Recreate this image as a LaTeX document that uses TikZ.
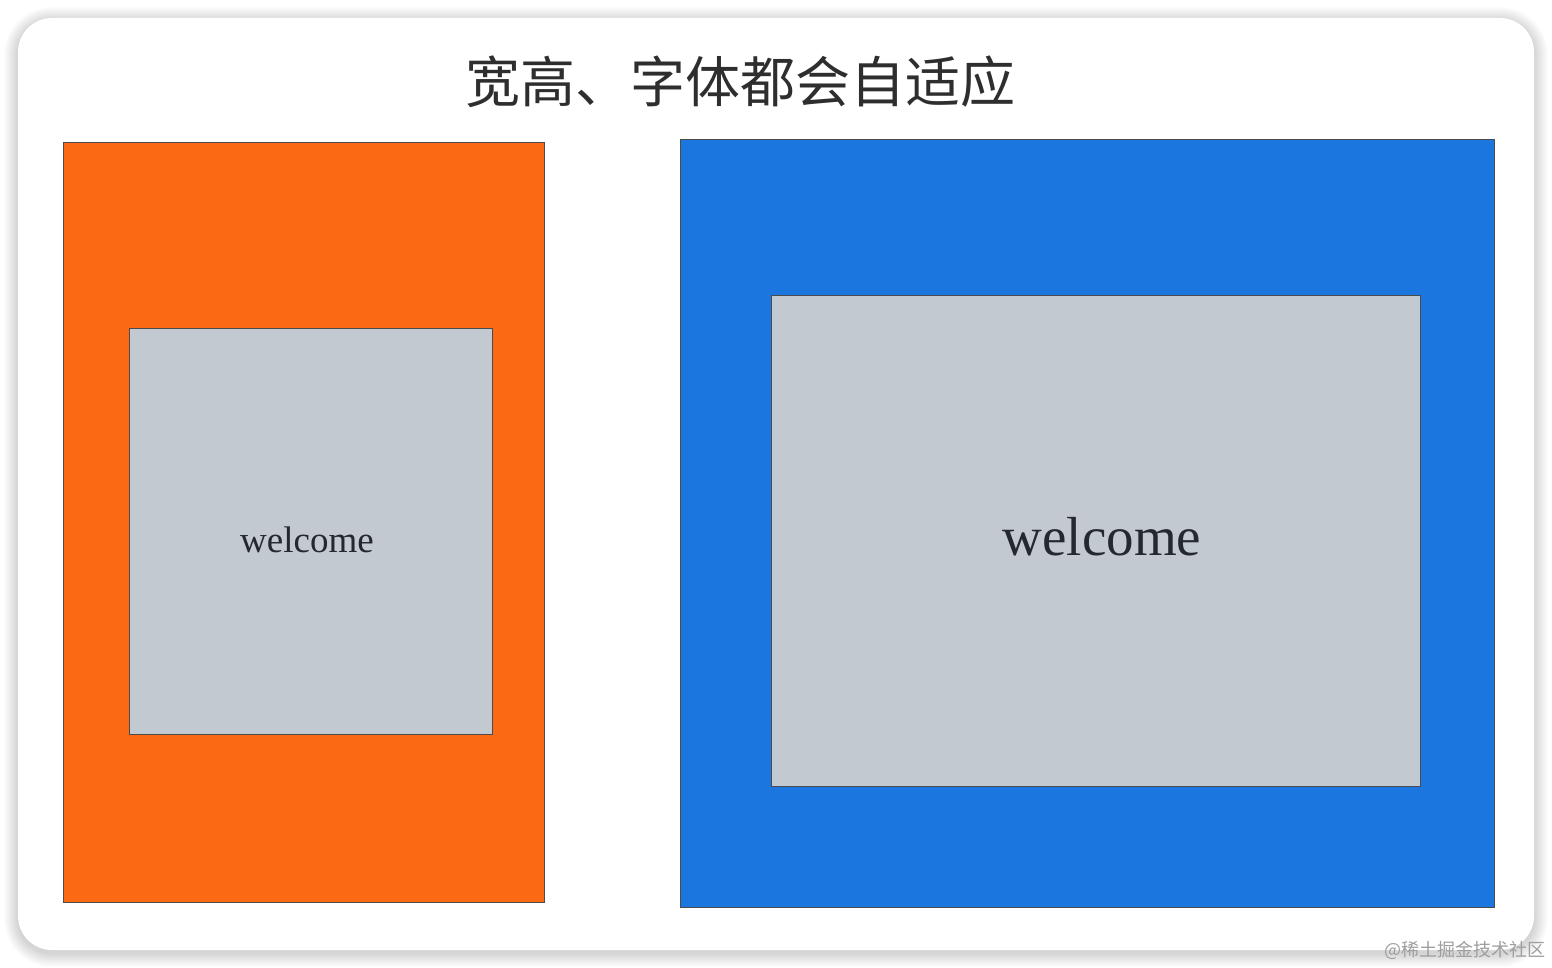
\documentclass[tikz,border=0pt]{standalone}
\usepackage{fontspec}
\usepackage{xcolor}
\usepackage{tikz}
\setmainfont{Liberation Serif}
\newfontfamily\cjk{Noto Sans CJK SC}

\definecolor{boxorange}{RGB}{252,105,20}
\definecolor{boxblue}{RGB}{28,118,224}
\definecolor{boxgray}{RGB}{195,201,208}
\definecolor{edgegray}{RGB}{75,75,75}
\definecolor{textdark}{RGB}{36,40,48}

\tikzset{
    panel/.style={rectangle, draw=edgegray, line width=0.9pt, inner sep=0pt},
    welcometext/.style={inner sep=0pt, text=textdark}
}

\begin{document}
\begin{tikzpicture}[x=1pt, y=-1pt]
    \useasboundingbox (0,0) rectangle (1552,968);
    \fill[white] (0,0) rectangle (1552,968);
    % soft shadow of the card
    \foreach \i in {1,...,14} {
        \fill[black, opacity=0.01, rounded corners=34+\i] (18-\i,18-\i+3) rectangle (1534+\i,950+\i+3);
    }
    \node[rectangle, fill=white, rounded corners=34, minimum width=1516pt, minimum height=932pt, inner sep=0pt] (card) at (776,484) {};
    \node[text=black!82, inner sep=0pt] (title) at (740,82) {\cjk\fontsize{55}{60}\selectfont 宽高、字体都会自适应};
    % left: narrow screen
    \node[panel, fill=boxorange, minimum width=481pt, minimum height=760pt] (leftscreen) at (303.5,522) {};
    \node[panel, fill=boxgray, minimum width=363pt, minimum height=406pt] (leftbox) at (310.5,531) {};
    \node[welcometext] (leftword) at (307,540) {\fontsize{37}{40}\selectfont welcome};
    % right: wide screen
    \node[panel, fill=boxblue, minimum width=814pt, minimum height=768pt] (rightscreen) at (1087,523) {};
    \node[panel, fill=boxgray, minimum width=649pt, minimum height=491pt] (rightbox) at (1095.5,540.5) {};
    \node[welcometext] (rightword) at (1102,537) {\fontsize{55}{60}\selectfont welcome};
    \node[text=black!38, inner sep=0pt, anchor=east] (mark) at (1546,950) {\cjk\fontsize{18}{20}\selectfont @稀土掘金技术社区};
\end{tikzpicture}
\end{document}
